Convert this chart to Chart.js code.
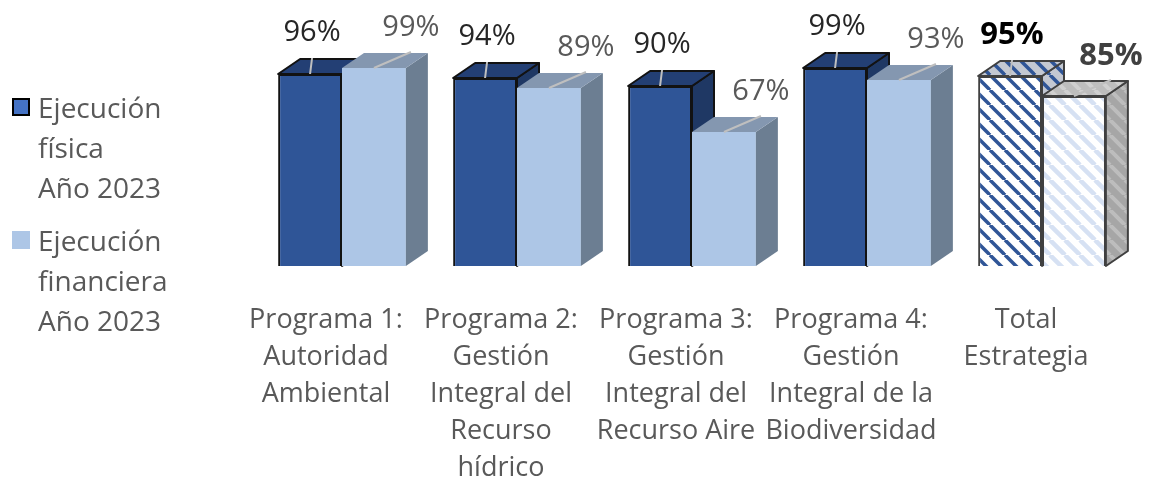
<!DOCTYPE html>
<html lang="es">
<head>
<meta charset="utf-8">
<script src="https://cdn.jsdelivr.net/npm/chart.js@4.4.1/dist/chart.umd.min.js"></script>
<style>
  html, body { margin: 0; padding: 0; background: #fff; }
  #wrap { position: relative; width: 1149px; height: 478px; overflow: hidden; }
  #chart { position: absolute; left: 0; top: 0; }
  #legend { position: absolute; left: 12px; top: 87px; font-family: "Open Sans", sans-serif; font-size: 28px; line-height: 40px; color: #595959; }
  .item { position: relative; padding-left: 26px; margin-bottom: 13px; white-space: nowrap; }
  .box { position: absolute; left: 0; top: 11px; width: 18px; height: 18px; box-sizing: border-box; }
</style>
</head>
<body>
<div id="wrap">
  <canvas id="chart" width="1149" height="478"></canvas>
  <div id="legend"></div>
</div>
<script>
const categories = [
  ["Programa 1:", "Autoridad", "Ambiental"],
  ["Programa 2:", "Gestión", "Integral del", "Recurso", "hídrico"],
  ["Programa 3:", "Gestión", "Integral del", "Recurso Aire"],
  ["Programa 4:", "Gestión", "Integral de la", "Biodiversidad"],
  ["Total", "Estrategia"]
];
const seriesNames = [
  ["Ejecución", "física", "Año 2023"],
  ["Ejecución", "financiera", "Año 2023"]
];
const fisica = [96, 94, 90, 99, 95];
const financiera = [99, 89, 67, 93, 85];

// diagonal stripe fill for the "Total" bars
function stripes(bg, fg, size, lw) {
  const c = document.createElement("canvas");
  c.width = size; c.height = size;
  const g = c.getContext("2d");
  g.fillStyle = bg; g.fillRect(0, 0, size, size);
  g.strokeStyle = fg; g.lineWidth = lw;
  for (let k = -size; k <= size; k += size) {
    g.beginPath(); g.moveTo(k, 0); g.lineTo(k + size, size); g.stroke();
  }
  return document.getElementById("chart").getContext("2d").createPattern(c, "repeat");
}

const patDark = stripes("#ffffff", "#2f5597", 15, 3.5);
const patDarkTop = stripes("#c3c8d2", "#2f5597", 15, 3.5);
const patLight = stripes("#ffffff", "#d6e1f3", 15, 4.5);
const patLightTop = stripes("#bdbdbd", "#d0d0d0", 15, 4);
const patLightSide = stripes("#a6a6a6", "#bdbdbd", 15, 4);

const dx = 22, dy = -15;

function drawFaces(chart, index) {
  const ds = chart.data.datasets[index];
  const meta = chart.getDatasetMeta(index);
  const ctx = chart.ctx;
  meta.data.forEach((bar, i) => {
    const { x, y, base, width } = bar.getProps(["x", "y", "base", "width"], true);
    const L = x - width / 2, R = x + width / 2;
    ctx.save();
    ctx.lineJoin = "round";
    const edge = ds.edgeColor[i];
    // side
    ctx.beginPath();
    ctx.moveTo(R, y); ctx.lineTo(R + dx, y + dy); ctx.lineTo(R + dx, base + dy); ctx.lineTo(R, base);
    ctx.closePath();
    ctx.fillStyle = ds.sideColor[i]; ctx.fill();
    if (edge) { ctx.strokeStyle = edge; ctx.lineWidth = 2; ctx.stroke(); }
    // top
    ctx.beginPath();
    ctx.moveTo(L, y); ctx.lineTo(L + dx, y + dy); ctx.lineTo(R + dx, y + dy); ctx.lineTo(R, y);
    ctx.closePath();
    ctx.fillStyle = ds.topColor[i]; ctx.fill();
    if (edge) { ctx.strokeStyle = edge; ctx.lineWidth = 2; ctx.stroke(); }
    ctx.restore();
  });
}

const box3d = {
  id: "box3d",
  beforeDatasetDraw(chart, args) {
    // series 2 is drawn first, so the back faces of series 1 go under it
    if (args.index === 1) drawFaces(chart, 0);
  },
  afterDatasetDraw(chart, args) {
    if (args.index === 1) drawFaces(chart, 1);
  },
  afterDatasetsDraw(chart) {
    const ctx = chart.ctx;
    chart.data.datasets.forEach((ds, di) => {
      chart.getDatasetMeta(di).data.forEach((bar, i) => {
        const { x, y } = bar.getProps(["x", "y"], true);
        const lx = x + ds.labelShift;
        const ly = y - ds.labelRise;
        ctx.save();
        ctx.strokeStyle = "#bfbfbf"; ctx.lineWidth = 2;
        ctx.beginPath(); ctx.moveTo(lx, y - 16); ctx.lineTo(x, y); ctx.stroke();
        ctx.font = i === 4 ? "bold 31px 'Open Sans'" : "29px 'Open Sans'";
        ctx.fillStyle = ds.labelColor[i];
        ctx.textAlign = "center"; ctx.textBaseline = "middle";
        ctx.fillText(ds.data[i] + "%", lx, ly);
        ctx.restore();
      });
    });
  }
};

new Chart(document.getElementById("chart"), {
  type: "bar",
  data: {
    labels: categories,
    datasets: [
      {
        label: seriesNames[0].join(" "),
        data: fisica,
        backgroundColor: ["#2f5597", "#2f5597", "#2f5597", "#2f5597", patDark],
        borderColor: ["#121212", "#121212", "#121212", "#121212", "#404040"],
        borderWidth: 2,
        topColor: ["#233f74", "#233f74", "#233f74", "#233f74", patDarkTop],
        sideColor: ["#1f3864", "#1f3864", "#1f3864", "#1f3864", patDarkTop],
        edgeColor: ["#121212", "#121212", "#121212", "#121212", "#404040"],
        labelColor: ["#262626", "#262626", "#262626", "#262626", "#000000"],
        labelShift: 2,
        labelRise: 41
      },
      {
        label: seriesNames[1].join(" "),
        data: financiera,
        backgroundColor: ["#adc6e6", "#adc6e6", "#adc6e6", "#adc6e6", patLight],
        borderColor: "#404040",
        borderWidth: [0, 0, 0, 0, 2],
        topColor: ["#8497b0", "#8497b0", "#8497b0", "#8497b0", patLightTop],
        sideColor: ["#6c7e92", "#6c7e92", "#6c7e92", "#6c7e92", patLightSide],
        edgeColor: [null, null, null, null, "#404040"],
        labelColor: ["#595959", "#595959", "#595959", "#595959", "#404040"],
        labelShift: 37,
        labelRise: 40
      }
    ]
  },
  options: {
    responsive: false,
    animation: false,
    layout: { padding: { left: 254.5, right: 19.5, top: 66, bottom: 0 } },
    datasets: { bar: { categoryPercentage: 0.73, barPercentage: 1 } },
    scales: {
      y: { display: false, min: 0, max: 100 },
      x: {
        grid: { display: false, drawTicks: false },
        border: { display: false },
        afterFit: (scale) => { scale.height = 212; },
        ticks: {
          color: "#595959",
          padding: 36,
          labelOffset: -16,
          maxRotation: 0,
          autoSkip: false,
          font: { family: "'Open Sans'", size: 27, lineHeight: 1.37 }
        }
      }
    },
    plugins: { legend: { display: false }, tooltip: { enabled: false } }
  },
  plugins: [box3d]
});

// legend on the left, lines as in the original
const legendColors = [
  { bg: "#4472c4", border: "2px solid #000" },
  { bg: "#adc6e6", border: "none" }
];
const legend = document.getElementById("legend");
seriesNames.forEach((lines, i) => {
  const item = document.createElement("div");
  item.className = "item";
  const box = document.createElement("span");
  box.className = "box";
  box.style.background = legendColors[i].bg;
  box.style.border = legendColors[i].border;
  item.appendChild(box);
  lines.forEach((t, k) => {
    if (k) item.appendChild(document.createElement("br"));
    item.appendChild(document.createTextNode(t));
  });
  legend.appendChild(item);
});
</script>
</body>
</html>
